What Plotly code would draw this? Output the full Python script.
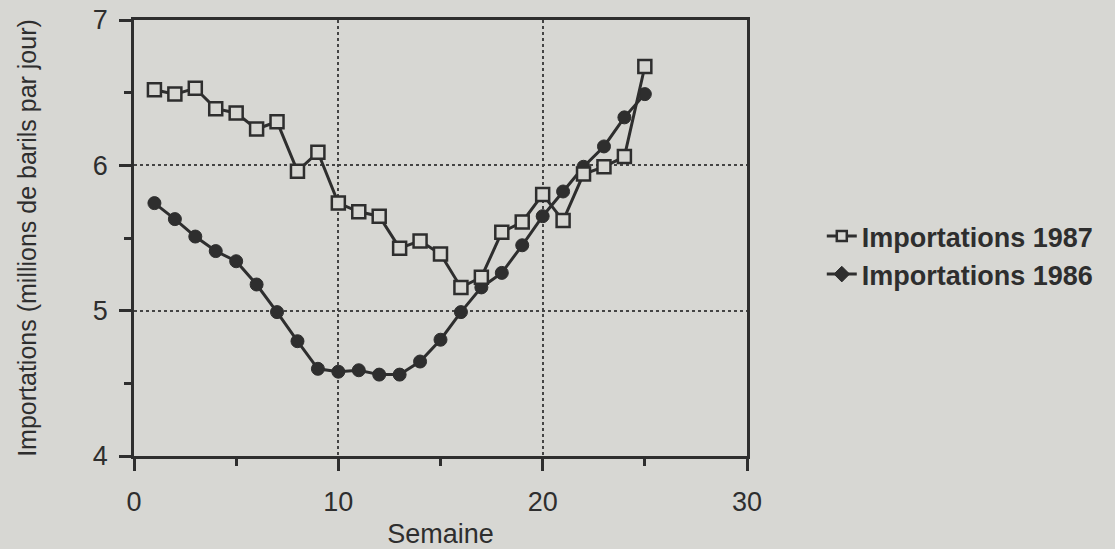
import plotly.graph_objects as go

semaines = list(range(1, 26))
imports_1987 = [6.52, 6.49, 6.53, 6.39, 6.36, 6.25, 6.30, 5.96, 6.09, 5.74,
                5.68, 5.65, 5.43, 5.48, 5.39, 5.16, 5.23, 5.54, 5.61, 5.80,
                5.62, 5.94, 5.99, 6.06, 6.68]
imports_1986 = [5.74, 5.63, 5.51, 5.41, 5.34, 5.18, 4.99, 4.79, 4.60, 4.58,
                4.59, 4.56, 4.56, 4.65, 4.80, 4.99, 5.16, 5.26, 5.45, 5.65,
                5.82, 5.99, 6.13, 6.33, 6.49]
x_ticks = [0, 10, 20, 30]
y_ticks = [4, 5, 6, 7]
noms = ["Importations 1987", "Importations 1986"]

BG = "#d7d7d3"
INK = "#2e2e2e"
FONT = "Liberation Sans, Arial, Helvetica, sans-serif"

fig = go.Figure()

# data traces
fig.add_trace(go.Scatter(
    x=semaines, y=imports_1986, mode="lines+markers", showlegend=False,
    line=dict(color=INK, width=3),
    marker=dict(symbol="circle", size=13, color=INK, line=dict(color=INK, width=1)),
))
fig.add_trace(go.Scatter(
    x=semaines, y=imports_1987, mode="lines+markers", showlegend=False,
    line=dict(color=INK, width=3),
    marker=dict(symbol="square", size=13, color=BG, line=dict(color=INK, width=2.5)),
))

# legend entries
fig.add_trace(go.Scatter(
    x=[None], y=[None], mode="lines+markers", name=noms[0],
    line=dict(color=INK, width=3),
    marker=dict(symbol="square", size=10, color=BG, line=dict(color=INK, width=2.5)),
))
fig.add_trace(go.Scatter(
    x=[None], y=[None], mode="lines+markers", name=noms[1],
    line=dict(color=INK, width=3),
    marker=dict(symbol="diamond", size=12, color=INK, line=dict(color=INK, width=1)),
))

axis_common = dict(
    showline=True, linecolor=INK, linewidth=2.5, mirror=True,
    ticks="outside", ticklen=12, tickwidth=2.5, tickcolor=INK,
    showgrid=True, gridcolor="#444444", gridwidth=1.5, griddash="dot",
    zeroline=False, automargin=False,
    tickfont=dict(family=FONT, size=27, color=INK),
)

fig.update_xaxes(
    range=[0, 30], tickvals=x_ticks, ticktext=[str(v) for v in x_ticks],
    minor=dict(ticks="outside", ticklen=7, tickwidth=2.5, tickcolor=INK,
               dtick=5, tick0=0, showgrid=False),
    title=dict(text="Semaine", font=dict(family=FONT, size=27, color=INK), standoff=8),
    ticklabelstandoff=8,
    **axis_common,
)
fig.update_yaxes(
    range=[4, 7], tickvals=y_ticks, ticktext=[str(v) for v in y_ticks],
    minor=dict(ticks="outside", ticklen=7, tickwidth=2.5, tickcolor=INK,
               dtick=0.5, tick0=4, showgrid=False),
    title=dict(text="Importations (millions de barils par jour)",
               font=dict(family=FONT, size=25, color=INK), standoff=50),
    ticklabelstandoff=6,
    **axis_common,
)

fig.update_layout(
    width=1115, height=549,
    margin=dict(l=134, r=368, t=20, b=93),
    paper_bgcolor=BG, plot_bgcolor=BG,
    font=dict(family=FONT, color=INK),
    legend=dict(
        x=1.122, y=0.46, xanchor="left", yanchor="middle",
        bgcolor="rgba(0,0,0,0)", itemwidth=30, tracegroupgap=0,
        font=dict(family=FONT, size=27, color=INK, weight="bold"),
    ),
)

fig.write_html(
    "out.html",
    config={"displayModeBar": False},
    post_script="document.body.style.margin='0';document.body.style.background='%s';" % BG,
)
